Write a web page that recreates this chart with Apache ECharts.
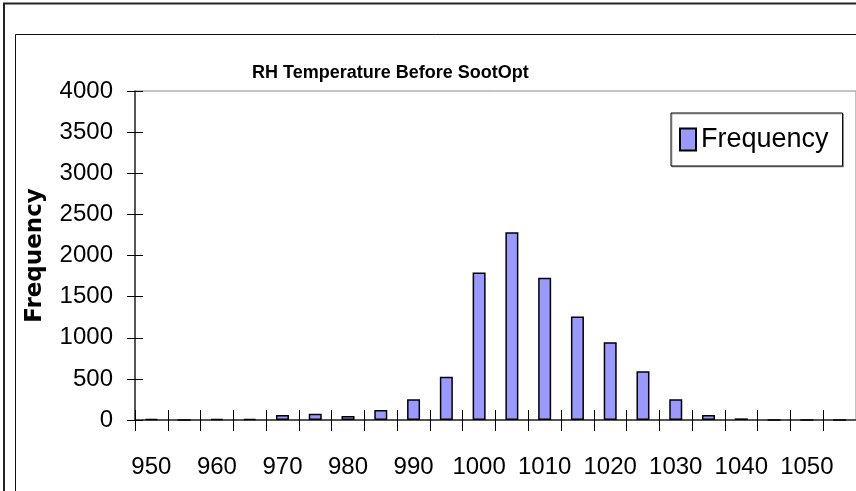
<!DOCTYPE html>
<html>
<head>
<meta charset="utf-8">
<script src="https://cdn.jsdelivr.net/npm/echarts@6/dist/echarts.min.js"></script>
<style>
html, body { margin: 0; padding: 0; background: #fff; }
#chart { width: 856px; height: 491px; }
</style>
</head>
<body>
<div id="chart"></div>
<script>
// bins (Excel histogram, last bin is "More")
var categories = ['950', '955', '960', '965', '970', '975', '980', '985', '990', '995',
  '1000', '1005', '1010', '1015', '1020', '1025', '1030', '1035', '1040', '1045', '1050', 'More'];
var frequency = [15, 0, 15, 15, 60, 77, 49, 122, 252, 527,
  1793, 2284, 1728, 1257, 945, 593, 252, 61, 20, 0, 0, 0];
var yMin = 0, yMax = 4000, yStep = 500;

var sans = '"Liberation Sans", Arial, sans-serif';

var chart = echarts.init(document.getElementById('chart'));
var option = {
  animation: false,
  backgroundColor: '#fff',
  title: {
    text: 'RH Temperature Before SootOpt',
    left: 252,
    top: 64,
    padding: 0,
    textStyle: { fontFamily: sans, fontWeight: 'bold', fontSize: 18, color: '#000' }
  },
  legend: {
    data: ['Frequency'],
    left: 671,
    top: 113,
    padding: [13, 14, 13, 8],
    backgroundColor: '#fff',
    borderColor: '#000',
    borderWidth: 1,
    shadowColor: 'rgba(0,0,0,0.3)',
    shadowOffsetX: 1,
    shadowOffsetY: 1,
    icon: 'rect',
    itemWidth: 16,
    itemHeight: 22,
    textStyle: { fontFamily: sans, fontSize: 27, color: '#000' }
  },
  grid: {
    left: 135,
    top: 91,
    width: 728,
    height: 329,
    show: true,
    borderColor: '#888',
    borderWidth: 1,
    backgroundColor: 'transparent'
  },
  xAxis: [{
    type: 'category',
    data: categories,
    position: 'bottom',
    axisLine: { lineStyle: { color: '#555', width: 2 } },
    axisTick: { show: true, interval: 0, length: 11, lineStyle: { color: '#000', width: 1 } },
    axisLabel: { interval: 1, margin: 35, color: '#000', fontFamily: sans, fontSize: 24 }
  }, {
    type: 'category',
    data: categories,
    position: 'bottom',
    axisLine: { show: false },
    axisTick: { show: true, inside: true, interval: 0, length: 10, lineStyle: { color: '#000', width: 1 } },
    axisLabel: { show: false }
  }],
  yAxis: [{
    type: 'value',
    min: yMin,
    max: yMax,
    interval: yStep,
    name: 'Frequency',
    nameLocation: 'middle',
    nameRotate: 90,
    nameGap: 88,
    nameTextStyle: { fontFamily: '"DejaVu Sans", sans-serif', fontWeight: 'bold', fontSize: 23, color: '#000' },
    axisLine: { show: true, lineStyle: { color: '#333', width: 1.5 } },
    axisTick: { show: true, length: 8, lineStyle: { color: '#000', width: 1 } },
    axisLabel: {
      margin: 22, color: '#000', fontFamily: sans, fontSize: 24,
      formatter: function (v) { return String(v); }
    },
    splitLine: { show: false }
  }, {
    type: 'value',
    min: yMin,
    max: yMax,
    interval: yStep,
    position: 'left',
    axisLine: { show: false },
    axisTick: { show: true, inside: true, length: 8, lineStyle: { color: '#000', width: 1 } },
    axisLabel: { show: false },
    splitLine: { show: false }
  }],
  series: [{
    name: 'Frequency',
    type: 'bar',
    xAxisIndex: 0,
    yAxisIndex: 0,
    barWidth: 13,
    data: frequency,
    itemStyle: { color: '#9999FF', borderColor: '#000', borderWidth: 1.5 }
  }],
  graphic: [{
    type: 'polyline',
    shape: { points: [[4, 491], [4, 3.5], [856, 3.5]] },
    style: { fill: null, stroke: '#222', lineWidth: 2 },
    silent: true
  }, {
    type: 'polyline',
    shape: { points: [[15.5, 491], [15.5, 34.5], [856, 34.5]] },
    style: { fill: null, stroke: '#111', lineWidth: 1 },
    silent: true
  }]
};
chart.setOption(option);
</script>
</body>
</html>
